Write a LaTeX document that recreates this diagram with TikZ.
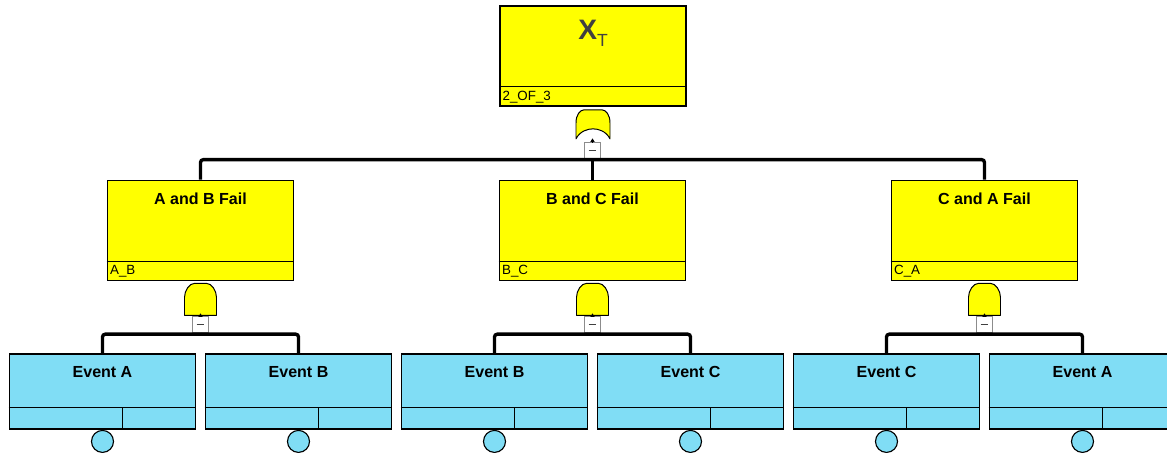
\documentclass[tikz,border=0pt]{standalone}
\usepackage{fontspec}
\setmainfont{Liberation Sans}
\usepackage{xcolor}
\usetikzlibrary{arrows.meta,positioning}
\definecolor{failyellow}{RGB}{255,255,0}
\definecolor{evblue}{RGB}{128,221,245}
\definecolor{xgray}{RGB}{64,64,64}

\begin{document}
\begin{tikzpicture}[x=0.025cm, y=-0.025cm,
  fail/.style={rectangle, draw=black, line width=1.2pt, fill=failyellow,
    minimum width=4.65cm, minimum height=2.5cm, inner sep=0pt},
  basic/.style={rectangle, draw=black, line width=1.2pt, fill=evblue,
    minimum width=4.65cm, minimum height=1.875cm, inner sep=0pt},
  title/.style={font=\fontsize{11.4}{13}\selectfont\bfseries, inner sep=0pt},
  tag/.style={font=\fontsize{9.5}{11}\selectfont, inner sep=0pt, anchor=west},
  strip/.style={line width=0.7pt},
  gate/.style={draw=black, line width=0.7pt, fill=failyellow, line join=round},
  minus/.style={rectangle, draw=black!45, fill=white, line width=0.7pt,
    minimum width=0.38cm, minimum height=0.38cm, inner sep=0pt},
  bar/.style={line width=2.4pt, rounded corners=2pt},
  stub/.style={line width=2.4pt},
  ptr/.style={-{Triangle[length=2.5pt,width=3pt]}, line width=0.5pt},
  dot/.style={circle, draw=black, line width=0.8pt, fill=evblue,
    minimum size=0.55cm, inner sep=0pt},
]
  \useasboundingbox (0,0) rectangle (1167,454);

  \node[fail] (top) at (593,56) {};
  \draw[strip] ([yshift=0.5cm]top.south west) -- ([yshift=0.5cm]top.south east);
  \node[title] (xt) at ([yshift=-0.7cm]top.north)
    {\color{xgray}\fontsize{20}{22}\selectfont X\raisebox{-0.17cm}{\fontsize{12.5}{14}\selectfont\mdseries T}};
  \node[tag] (ttop) at ([xshift=0.08cm, yshift=0.25cm]top.south west) {2\_OF\_3};
  \begin{scope}[shift={(top.south)}]
    \draw[gate] (-17,32) -- (-17,16) .. controls (-17,8) and (-13,3) .. (-9,3)
      -- (9,3) .. controls (13,3) and (17,8) .. (17,16) -- (17,32)
      .. controls (13,24) and (5,22) .. (0,22) .. controls (-5,22) and (-13,24) .. (-17,32) -- cycle;
  \end{scope}
  \node[minus] (mtop) at (592.5,150.5) {\textcolor{black!75}{\rule[0.2pt]{5.5pt}{0.7pt}}};
  \draw[ptr] (mtop.north) -- ++(0,-4);

  \node[fail] (ab) at (200.5,230.5) {};
  \node[fail] (bc) at (592.5,230.5) {};
  \node[fail] (ca) at (984.5,230.5) {};
  \draw[strip] ([yshift=0.5cm]ab.south west) -- ([yshift=0.5cm]ab.south east);
  \draw[strip] ([yshift=0.5cm]bc.south west) -- ([yshift=0.5cm]bc.south east);
  \draw[strip] ([yshift=0.5cm]ca.south west) -- ([yshift=0.5cm]ca.south east);
  \node[title] (tab) at ([yshift=-0.475cm]ab.north) {A and B Fail};
  \node[title] (tbc) at ([yshift=-0.475cm]bc.north) {B and C Fail};
  \node[title] (tca) at ([yshift=-0.475cm]ca.north) {C and A Fail};
  \node[tag] (gab) at ([xshift=0.08cm, yshift=0.25cm]ab.south west) {A\_B};
  \node[tag] (gbc) at ([xshift=0.08cm, yshift=0.25cm]bc.south west) {B\_C};
  \node[tag] (gca) at ([xshift=0.08cm, yshift=0.25cm]ca.south west) {C\_A};

  \draw[bar] (ab.north) -- ++(0,-20) -| (ca.north);
  \draw[stub] (mtop.south) -- (mtop.south |- bc.north);

  \begin{scope}[shift={(ab.south)}]
    \draw[gate] (-16,34) -- (-16,16) .. controls (-16,9) and (-11,2) .. (-6,2)
      -- (6,2) .. controls (11,2) and (16,9) .. (16,16) -- (16,34) -- cycle;
  \end{scope}
  \begin{scope}[shift={(bc.south)}]
    \draw[gate] (-16,34) -- (-16,16) .. controls (-16,9) and (-11,2) .. (-6,2)
      -- (6,2) .. controls (11,2) and (16,9) .. (16,16) -- (16,34) -- cycle;
  \end{scope}
  \begin{scope}[shift={(ca.south)}]
    \draw[gate] (-16,34) -- (-16,16) .. controls (-16,9) and (-11,2) .. (-6,2)
      -- (6,2) .. controls (11,2) and (16,9) .. (16,16) -- (16,34) -- cycle;
  \end{scope}
  \node[minus] (mab) at (200.5,324.5) {\textcolor{black!75}{\rule[0.2pt]{5.5pt}{0.7pt}}};
  \node[minus] (mbc) at (592.5,324.5) {\textcolor{black!75}{\rule[0.2pt]{5.5pt}{0.7pt}}};
  \node[minus] (mca) at (984.5,324.5) {\textcolor{black!75}{\rule[0.2pt]{5.5pt}{0.7pt}}};
  \draw[ptr] (mab.north) -- ++(0,-3);
  \draw[ptr] (mbc.north) -- ++(0,-3);
  \draw[ptr] (mca.north) -- ++(0,-3);

  \node[basic] (e1) at (102.5,391.5) {};
  \node[basic] (e2) at (298.5,391.5) {};
  \node[basic] (e3) at (494.5,391.5) {};
  \node[basic] (e4) at (690.5,391.5) {};
  \node[basic] (e5) at (886.5,391.5) {};
  \node[basic] (e6) at (1082.5,391.5) {};
  \draw[strip] ([yshift=0.55cm]e1.south west) -- ([yshift=0.55cm]e1.south east);
  \draw[strip] ([yshift=0.55cm]e2.south west) -- ([yshift=0.55cm]e2.south east);
  \draw[strip] ([yshift=0.55cm]e3.south west) -- ([yshift=0.55cm]e3.south east);
  \draw[strip] ([yshift=0.55cm]e4.south west) -- ([yshift=0.55cm]e4.south east);
  \draw[strip] ([yshift=0.55cm]e5.south west) -- ([yshift=0.55cm]e5.south east);
  \draw[strip] ([yshift=0.55cm]e6.south west) -- ([yshift=0.55cm]e6.south east);
  \draw[strip] ([xshift=0.5cm, yshift=0.55cm]e1.south) -- ([xshift=0.5cm]e1.south);
  \draw[strip] ([xshift=0.5cm, yshift=0.55cm]e2.south) -- ([xshift=0.5cm]e2.south);
  \draw[strip] ([xshift=0.5cm, yshift=0.55cm]e3.south) -- ([xshift=0.5cm]e3.south);
  \draw[strip] ([xshift=0.5cm, yshift=0.55cm]e4.south) -- ([xshift=0.5cm]e4.south);
  \draw[strip] ([xshift=0.5cm, yshift=0.55cm]e5.south) -- ([xshift=0.5cm]e5.south);
  \draw[strip] ([xshift=0.5cm, yshift=0.55cm]e6.south) -- ([xshift=0.5cm]e6.south);
  \node[title] (t1) at ([yshift=-0.475cm]e1.north) {Event A};
  \node[title] (t2) at ([yshift=-0.475cm]e2.north) {Event B};
  \node[title] (t3) at ([yshift=-0.475cm]e3.north) {Event B};
  \node[title] (t4) at ([yshift=-0.475cm]e4.north) {Event C};
  \node[title] (t5) at ([yshift=-0.475cm]e5.north) {Event C};
  \node[title] (t6) at ([yshift=-0.475cm]e6.north) {Event A};

  \draw[bar] (e1.north) -- ++(0,-19) -| (e2.north);
  \draw[bar] (e3.north) -- ++(0,-19) -| (e4.north);
  \draw[bar] (e5.north) -- ++(0,-19) -| (e6.north);
  \draw[stub] (mab.south) -- ++(0,3);
  \draw[stub] (mbc.south) -- ++(0,3);
  \draw[stub] (mca.south) -- ++(0,3);

  \node[dot, below=0pt of e1.south] (c1) {};
  \node[dot, below=0pt of e2.south] (c2) {};
  \node[dot, below=0pt of e3.south] (c3) {};
  \node[dot, below=0pt of e4.south] (c4) {};
  \node[dot, below=0pt of e5.south] (c5) {};
  \node[dot, below=0pt of e6.south] (c6) {};
\end{tikzpicture}
\end{document}
